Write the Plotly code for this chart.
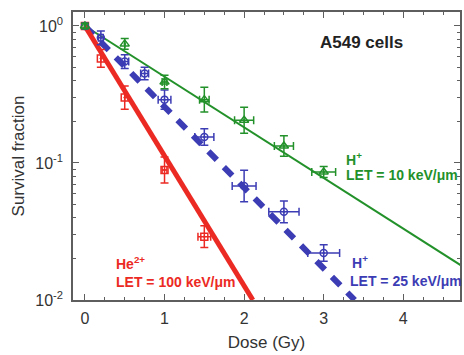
import numpy as np
import plotly.graph_objects as go

# Measured survival fractions (A549 cells)
green_dose = [0, 0.5, 1.0, 1.5, 2.0, 2.5, 3.0]
green_sf = [1.0, 0.74, 0.39, 0.29, 0.205, 0.133, 0.086]
green_err_dex = [0.02, 0.04, 0.05, 0.09, 0.095, 0.075, 0.04]
green_dose_err = [0, 0, 0.03, 0.06, 0.12, 0.12, 0.15]

blue_dose = [0, 0.2, 0.5, 0.75, 1.0, 1.5, 2.0, 2.5, 3.0]
blue_sf = [1.0, 0.82, 0.55, 0.45, 0.29, 0.155, 0.068, 0.044, 0.022]
blue_err_dex = [0.02, 0.05, 0.05, 0.045, 0.07, 0.06, 0.115, 0.08, 0.06]
blue_dose_err = [0, 0.03, 0.05, 0.05, 0.08, 0.12, 0.15, 0.19, 0.2]

red_dose = [0, 0.2, 0.5, 1.0, 1.5]
red_sf = [1.0, 0.58, 0.30, 0.089, 0.029]
red_err_dex = [0.02, 0.065, 0.085, 0.095, 0.08]
red_dose_err = [0, 0, 0, 0.03, 0.08]

# Exponential fit lines (straight on the log axis)
green_fit_dose = [0, 4.8]
green_fit_sf = [1.0, 0.0168]
blue_fit_dose = [0, 3.39]
blue_fit_sf = [1.0, 0.01]
red_fit_dose = [0, 2.11]
red_fit_sf = [1.0, 0.01]

y_tickvals = [0.01, 0.1, 1]
y_ticktext = ["10<sup>-2</sup>", "10<sup>-1</sup>", "10<sup>0</sup>"]

GREEN = "#23912a"
BLUE = "#3c3cb4"
RED = "#ec2a24"
AXIS = "#5e5e5e"
FONT = "Liberation Sans, Arial, sans-serif"


def log_err(sf, dex):
    sf = np.asarray(sf, float)
    dex = np.asarray(dex, float)
    return sf * (10 ** dex - 1), sf * (1 - 10 ** (-dex))


fig = go.Figure()

fig.add_trace(go.Scatter(x=green_fit_dose, y=green_fit_sf, mode="lines",
                         line=dict(color=GREEN, width=2), showlegend=False))
fig.add_trace(go.Scatter(x=blue_fit_dose, y=blue_fit_sf, mode="lines",
                         line=dict(color=BLUE, width=6, dash="12px,10px"),
                         showlegend=False))
fig.add_trace(go.Scatter(x=red_fit_dose, y=red_fit_sf, mode="lines",
                         line=dict(color=RED, width=5), showlegend=False))

for dose, sf, edex, xerr, color, sym, size in [
    (red_dose, red_sf, red_err_dex, red_dose_err, RED, "square-open-dot", 7),
    (blue_dose, blue_sf, blue_err_dex, blue_dose_err, BLUE, "circle-open-dot", 7),
    (green_dose, green_sf, green_err_dex, green_dose_err, GREEN, "triangle-up-open-dot", 8),
]:
    up, down = log_err(sf, edex)
    fig.add_trace(go.Scatter(
        x=dose, y=sf, mode="markers",
        marker=dict(symbol=sym, size=size, color=color, line=dict(width=1.5, color=color)),
        error_y=dict(type="data", symmetric=False, array=up, arrayminus=down,
                     color=color, thickness=1.5, width=4),
        error_x=dict(type="data", array=xerr, color=color, thickness=1.5, width=4),
        showlegend=False,
    ))

# Minor ticks on the log axis: 2..9 within each decade
y_minor = [m * 10.0 ** e for e in (-2, -1) for m in range(2, 10)]

fig.update_xaxes(
    range=[-0.15, 4.7125], tick0=0, dtick=1,
    ticks="inside", ticklen=6, tickwidth=1.2, tickcolor=AXIS,
    minor=dict(ticks="inside", ticklen=3, tickwidth=1, tickcolor=AXIS, tick0=0, dtick=0.25),
    showline=True, linecolor=AXIS, linewidth=1.5, mirror="ticks",
    showgrid=False, zeroline=False,
    tickfont=dict(family=FONT, size=16, color="#333"),
    ticklabelstandoff=3,
    title=dict(text="Dose (Gy)", font=dict(family=FONT, size=17, color="#333"), standoff=10),
)
fig.update_yaxes(
    type="log", range=[-2, 0.102],
    tickmode="array", tickvals=y_tickvals, ticktext=y_ticktext,
    ticks="inside", ticklen=6, tickwidth=1.2, tickcolor=AXIS,
    minor=dict(ticks="inside", ticklen=3, tickwidth=1, tickcolor=AXIS,
               tickmode="array", tickvals=y_minor),
    showline=True, linecolor=AXIS, linewidth=1.5, mirror="ticks",
    showgrid=False, zeroline=False,
    tickfont=dict(family=FONT, size=16, color="#333"),
    ticklabelstandoff=5,
    title=dict(text="Survival fraction", font=dict(family=FONT, size=17, color="#333"), standoff=6),
)

annotations = [
    dict(x=3.475, y=-0.124, text="<b>A549 cells</b>", color="#222", size=17, anchor="center"),
    dict(x=3.25, y=-0.97, text="<b>H<sup>+</sup></b>", color=GREEN, size=14, anchor="left"),
    dict(x=3.25, y=-1.09, text="<b>LET = 10 keV/μm</b>", color=GREEN, size=14, anchor="left"),
    dict(x=3.33, y=-1.725, text="<b>H<sup>+</sup></b>", color=BLUE, size=14, anchor="left"),
    dict(x=3.3, y=-1.86, text="<b>LET = 25 keV/μm</b>", color=BLUE, size=14, anchor="left"),
    dict(x=0.36, y=-1.73, text="<b>He<sup>2+</sup></b>", color=RED, size=14, anchor="left"),
    dict(x=0.36, y=-1.87, text="<b>LET = 100 keV/μm</b>", color=RED, size=14, anchor="left"),
]
for a in annotations:
    fig.add_annotation(x=a["x"], y=a["y"], xref="x", yref="y", text=a["text"],
                       showarrow=False, xanchor=a["anchor"], yanchor="middle",
                       font=dict(family=FONT, size=a["size"], color=a["color"]))

fig.update_layout(
    width=464, height=355,
    margin=dict(l=73, r=2, t=12, b=55),
    paper_bgcolor="white", plot_bgcolor="white",
    font=dict(family=FONT),
)

fig.write_html("out.html")
